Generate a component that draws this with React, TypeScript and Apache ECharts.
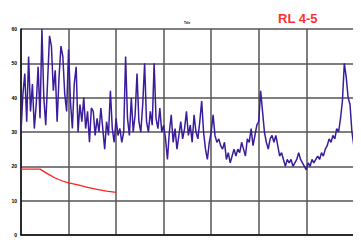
import React, { useEffect, useRef } from "react";
import * as echarts from "echarts";

const blueX: number[] = Array.from({ length: 176 }, (_, i) => i * 2);
const blueY: number[] = [
  30, 41, 47, 33, 52, 36, 44, 31, 38, 49, 34, 60, 40, 32, 45, 58, 55, 42, 48, 33,
  46, 55, 52, 41, 36, 54, 39, 31, 44, 49, 30, 38, 33, 40, 31, 36, 27, 37, 36, 29,
  34, 30, 37, 31, 25, 33, 29, 42, 31, 27, 34, 29, 31, 27, 30, 52, 34, 29, 40, 30,
  35, 47, 33, 30, 38, 50, 33, 30, 36, 32, 50, 34, 31, 37, 30, 32, 28, 22, 30, 35,
  27, 31, 25, 29, 33, 28, 31, 36, 29, 32, 27, 35, 30, 28, 33, 39, 30, 25, 22, 27,
  30, 35, 29, 27, 28, 26, 25, 27, 22, 24, 21, 23, 25, 23, 25, 24, 27, 25, 23, 28,
  27, 31, 26, 29, 32, 33, 42, 36, 30, 27, 25, 28, 29, 27, 29, 26, 23, 24, 22, 20,
  22, 21, 22, 20, 21, 22, 24, 22, 21, 20, 19, 21, 20, 22, 21, 22, 23, 22, 24, 23,
  25, 26, 28, 27, 29, 28, 31, 30, 34, 39, 50, 46, 40, 38, 30, 26,
];
const redX: number[] = [0, 20, 28, 36, 43, 50, 60, 70, 80, 90, 100];
const redY: number[] = [19.2, 19.2, 17.8, 16.6, 15.8, 15.2, 14.6, 13.9, 13.3, 12.8, 12.4];

export default function App() {
  const ref = useRef<HTMLDivElement>(null);
  useEffect(() => {
    if (!ref.current) return;
    const chart = echarts.init(ref.current, null, { renderer: "svg" });
    const blueData = blueX.map((x, i) => [x, blueY[i]]);
    const redData = redX.map((x, i) => [x, redY[i]]);
    const frameAxis = {
      type: "value",
      min: 0,
      max: 1,
      gridIndex: 1,
      axisLine: { show: true, lineStyle: { color: "#222", width: 1.5 } },
      axisTick: { show: false },
      axisLabel: { show: false },
      splitLine: { show: false },
    };
    chart.setOption({
      animation: false,
      backgroundColor: "#ffffff",
      grid: [
        { left: 21, top: 29, right: 7, bottom: 10 },
        { left: 6, top: 6, width: 400, height: 300 },
      ],
      xAxis: [
        {
          type: "value",
          min: 0,
          max: 350,
          interval: 50,
          axisLine: { show: true, lineStyle: { color: "#111", width: 1.5 } },
          axisTick: { show: false },
          axisLabel: { fontSize: 5, fontWeight: "bold", color: "#000", margin: 2 },
          splitLine: { show: true, lineStyle: { color: "#555", width: 1.5 } },
        },
        { ...frameAxis, position: "top" },
      ],
      yAxis: [
        {
          type: "value",
          min: 0,
          max: 60,
          interval: 10,
          axisLine: { show: true, lineStyle: { color: "#111", width: 1.5 } },
          axisTick: { show: false },
          axisLabel: { fontSize: 5, fontWeight: "bold", color: "#000", margin: 4 },
          splitLine: { show: true, lineStyle: { color: "#555", width: 1.5 } },
        },
        { ...frameAxis, position: "left" },
      ],
      graphic: [
        {
          type: "text",
          left: 278,
          top: 12,
          style: {
            text: "RL 4-5",
            fill: "#ff3030",
            font: "bold 13px 'Liberation Sans', Arial, sans-serif",
          },
        },
        {
          type: "text",
          left: 184,
          top: 21,
          style: { text: "Title", fill: "#000", font: "bold 3px sans-serif" },
        },
        {
          type: "text",
          left: 172,
          top: 240,
          style: { text: "Time (sec)", fill: "#000", font: "bold 4px sans-serif" },
        },
      ],
      series: [
        {
          type: "line",
          data: blueData,
          showSymbol: false,
          lineStyle: { color: "#3b1d9c", width: 1.5 },
          z: 3,
        },
        {
          type: "line",
          data: redData,
          showSymbol: false,
          lineStyle: { color: "#ff2020", width: 1.3 },
          z: 4,
        },
      ],
    });
    return () => chart.dispose();
  }, []);
  return <div ref={ref} style={{ width: 361, height: 245, margin: -8 }} />;
}
